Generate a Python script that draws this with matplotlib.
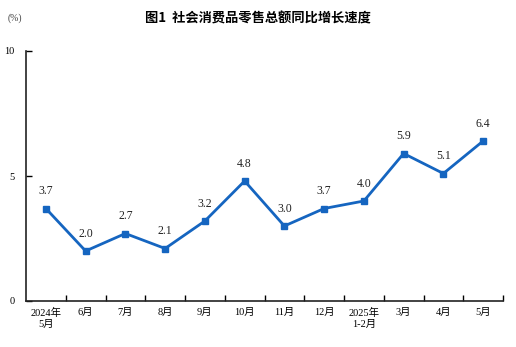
import matplotlib
matplotlib.use("Agg")
import matplotlib.pyplot as plt
import numpy as np

categories = ["2024年\n5月", "6月", "7月", "8月", "9月", "10月", "11月", "12月",
              "2025年\n1-2月", "3月", "4月", "5月"]
values = [3.7, 2.0, 2.7, 2.1, 3.2, 4.8, 3.0, 3.7, 4.0, 5.9, 5.1, 6.4]
value_labels = ["3.7", "2.0", "2.7", "2.1", "3.2", "4.8", "3.0", "3.7", "4.0", "5.9", "5.1", "6.4"]
y_ticks = [0, 5, 10]

fam = ["Liberation Serif", "Noto Sans CJK SC"]
plt.rcParams["font.family"] = fam

fig = plt.figure(figsize=(5.16, 3.47), dpi=100)
ax = fig.add_axes([26/516, 1-301/347, 477/516, 250/347])

x = np.arange(len(values))
color = "#1565C0"
ax.plot(x, values, color=color, lw=2, marker="s", ms=4.5, zorder=3)
for xi, v, lab in zip(x, values, value_labels):
    ax.annotate(lab, (xi, v), xytext=(0, 8), textcoords="offset points",
                ha="center", va="bottom", fontsize=8.5, color="#222222")

ax.set_xlim(-0.5, len(values) - 0.5)
ax.set_ylim(0, 10)
ax.set_yticks(y_ticks)
ax.set_yticklabels([str(t) for t in y_ticks], fontsize=7.5)
ax.set_xticks(x)
ax.set_xticklabels(categories, fontsize=7.5, linespacing=1.2)
ax.set_xticks(np.arange(0.5, len(values), 1.0), minor=True)
ax.tick_params(axis="x", which="major", length=0, pad=5)
ax.tick_params(axis="x", which="minor", direction="in", length=4, width=1)
ax.tick_params(axis="y", direction="in", length=4, width=1, pad=8)
for s in ["top", "right"]:
    ax.spines[s].set_visible(False)
for s in ["left", "bottom"]:
    ax.spines[s].set_linewidth(1.2)
    ax.spines[s].set_color("#222222")

fig.text(0.5, 1-18/347, "图1  社会消费品零售总额同比增长速度", ha="center", va="center",
         fontsize=9.5, fontweight="bold", family=["Noto Sans CJK SC"])
fig.text(15/516, 1-18/347, "(%)", ha="center", va="center", fontsize=7, color="#444444")

fig.savefig("out.png", dpi=100)
